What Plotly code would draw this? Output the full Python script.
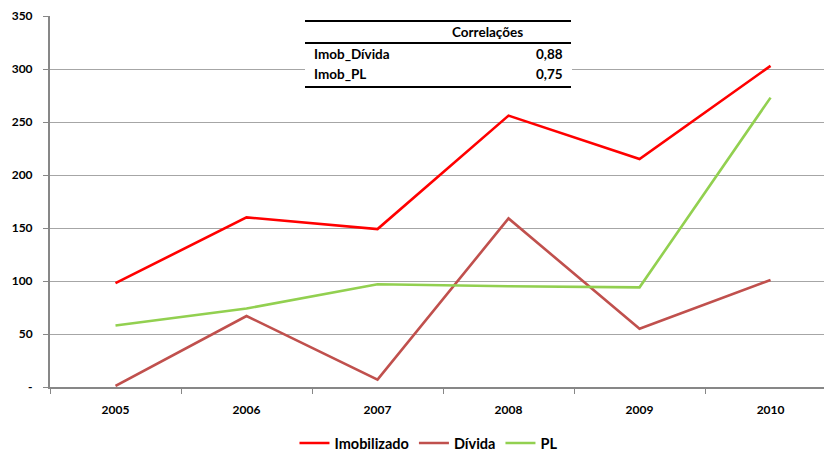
import plotly.graph_objects as go

# Series values by year
anos = ["2005", "2006", "2007", "2008", "2009", "2010"]
imobilizado = [98, 160, 149, 256, 215, 303]
divida = [1, 67, 7, 159, 55, 101]
pl = [58, 74, 97, 95, 94, 273]

# Correlation table
corr_nomes = ["Imob_Dívida", "Imob_PL"]
corr_valores = ["0,88", "0,75"]

y_ticks = [0, 50, 100, 150, 200, 250, 300, 350]
y_ticktext = ["-", "50", "100", "150", "200", "250", "300", "350"]

W, H = 824, 451
ML, MR, MT, MB = 50, 0, 16, 64
PW, PH = W - ML - MR, H - MT - MB

FONT = "Lato, 'Open Sans', sans-serif"


def px_x(x):
    return (x - ML) / PW


def px_y(y):
    return (H - MB - y) / PH


fig = go.Figure()
series = [
    ("Imobilizado", imobilizado, "#FF0000"),
    ("Dívida", divida, "#C0504D"),
    ("PL", pl, "#92D050"),
]
for nome, vals, cor in series:
    fig.add_trace(go.Scatter(
        x=anos, y=vals, name=nome, mode="lines",
        line=dict(color=cor, width=2.6),
    ))

# Correlation table: white backing, rules and text
shapes = [
    dict(type="rect", xref="paper", yref="paper",
         x0=px_x(305), x1=px_x(572), y0=px_y(88), y1=px_y(20),
         fillcolor="white", line=dict(width=0), layer="above"),
]
for yy in (21, 43, 87):
    shapes.append(dict(
        type="line", xref="paper", yref="paper",
        x0=px_x(305), x1=px_x(571), y0=px_y(yy), y1=px_y(yy),
        line=dict(color="black", width=2), layer="above"))

tfont = dict(family=FONT, size=13.5, color="black", weight="bold")
annotations = [
    dict(text="Correlações", xref="paper", yref="paper",
         x=px_x(487), y=px_y(32), xanchor="center", yanchor="middle",
         showarrow=False, font=tfont),
]
for i, (nome, val) in enumerate(zip(corr_nomes, corr_valores)):
    yy = 54 + i * 20
    annotations.append(dict(
        text=nome, xref="paper", yref="paper",
        x=px_x(312), y=px_y(yy), xanchor="left", yanchor="middle",
        showarrow=False, font=tfont))
    annotations.append(dict(
        text=val, xref="paper", yref="paper",
        x=px_x(565), y=px_y(yy), xanchor="right", yanchor="middle",
        showarrow=False, font=tfont))

fig.update_layout(
    width=W, height=H,
    margin=dict(l=ML, r=MR, t=MT, b=MB, autoexpand=False),
    paper_bgcolor="white", plot_bgcolor="white",
    font=dict(family=FONT, color="black"),
    showlegend=True,
    legend=dict(
        orientation="h", x=0.52, xanchor="center", xref="container",
        y=8 / H, yanchor="middle", yref="container",
        font=dict(family=FONT, size=14.5, color="black", weight="bold"),
        itemwidth=30, tracegroupgap=0, bgcolor="rgba(0,0,0,0)",
    ),
    xaxis=dict(
        type="category", range=[-0.5, 5.408],
        showgrid=False, showline=True, linecolor="#878787", linewidth=2,
        ticks="outside", tickson="boundaries", ticklen=5, tickcolor="#878787",
        tickfont=dict(family=FONT, size=12, color="black", weight="bold"),
        ticklabelstandoff=11,
        zeroline=False,
    ),
    yaxis=dict(
        range=[0, 350], tickvals=y_ticks, ticktext=y_ticktext,
        showgrid=True, gridcolor="#A6A6A6", gridwidth=1,
        showline=True, linecolor="#878787", linewidth=2,
        ticks="outside", ticklen=5, tickcolor="#878787",
        tickfont=dict(family=FONT, size=12, color="black", weight="bold"),
        ticklabelstandoff=8,
        zeroline=False,
    ),
    shapes=shapes,
    annotations=annotations,
)

fig.write_html("out.html")
